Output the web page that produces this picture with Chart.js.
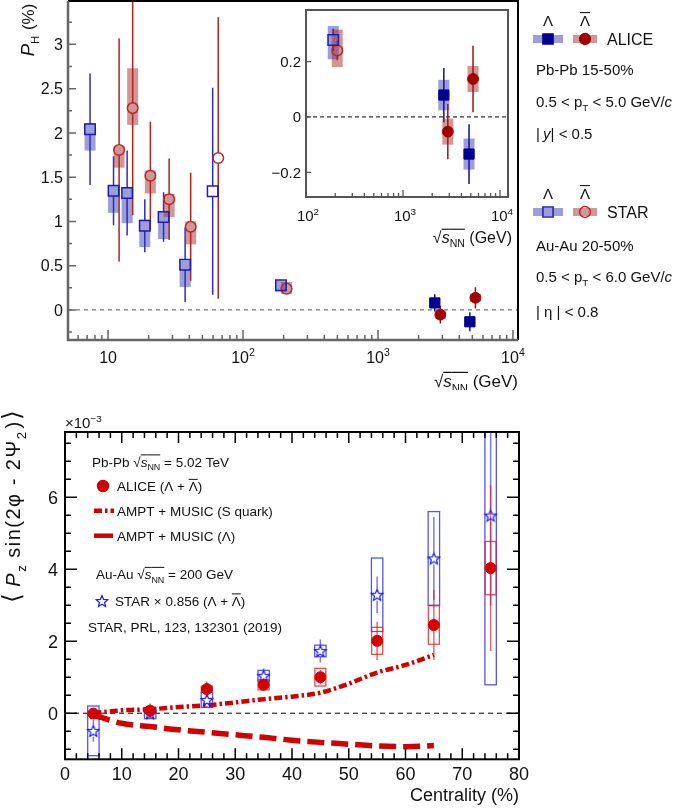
<!DOCTYPE html>
<html>
<head>
<meta charset="utf-8">
<script src="https://cdn.jsdelivr.net/npm/chart.js@4.4.1/dist/chart.umd.min.js"></script>
<style>
  body { margin: 0; background: #fff; }
  #wrap { position: relative; width: 685px; height: 811px; }
  canvas { position: absolute; left: 0; }
</style>
</head>
<body>
<div id="wrap">
  <canvas id="topChart" width="685" height="390" style="top:0"></canvas>
  <canvas id="insetChart" width="685" height="390" style="top:0"></canvas>
  <canvas id="bottomChart" width="685" height="421" style="top:390px"></canvas>
</div>
<script>
// ---- top panel: global polarization P_H (%) vs sqrt(s_NN) ----
// STAR Au-Au 20-50%, Lambda
const starEnergyLam = [7.7, 11.5, 14.5, 19.6, 27, 39, 62.4, 200];
const starPLam = [2.04, 1.347, 1.32, 0.95, 1.05, 0.51, 1.34, 0.278];
const starStatLam = [0.63, 0.39, 0.48, 0.30, 0.28, 0.42, 1.17, 0.04];
const starSysUpLam = [0.07, 0.06, 0.065, 0.07, 0.06, 0.05, 0.0, 0.05];
const starSysDnLam = [0.24, 0.25, 0.34, 0.24, 0.25, 0.25, 0.0, 0.07];
// STAR, anti-Lambda
const starEnergyBar = [11.5, 14.5, 19.6, 27, 39, 62.4, 200];
const starPBar = [1.806, 2.28, 1.516, 1.25, 0.94, 1.716, 0.24];
const starStatBar = [1.26, 1.21, 0.61, 0.46, 0.61, 1.59, 0.035];
const starSysUpBar = [0.05, 0.45, 0.06, 0.06, 0.06, 0.0, 0.075];
const starSysDnBar = [0.20, 0.19, 0.20, 0.20, 0.20, 0.0, 0.06];
// ALICE Pb-Pb 15-50%
const aliceEnergy = [2760, 5020];
const alicePLam = [0.079, -0.134];
const aliceStatLam = [0.098, 0.108];
const aliceSysLam = [0.055, 0.056];
const alicePBar = [-0.053, 0.137];
const aliceStatBar = [0.10, 0.12];
const aliceSysBar = [0.047, 0.047];
// Lambda / anti-Lambda are drawn slightly left / right of the nominal energy
const lamShift = 0.955;
const barShift = 1.05;

const topYTicks = [0, 0.5, 1, 1.5, 2, 2.5, 3];
const topYTickLabels = ['0', '0.5', '1', '1.5', '2', '2.5', '3'];
const topXTicks = [10, 100, 1000, 10000];
const topXTickLabels = [['10', ''], ['10', '2'], ['10', '3'], ['10', '4']];
const insetYTicks = [-0.2, 0, 0.2];
const insetYTickLabels = ['\u22120.2', '0', '0.2'];
const insetXTicks = [100, 1000, 10000];
const insetXTickLabels = [['10', '2'], ['10', '3'], ['10', '4']];

// ---- bottom panel: <P_z sin(2phi - 2Psi_2)> (x 1e-3) vs centrality ----
const centrality = [5, 15, 25, 35, 45, 55, 65, 75];
const alicePz = [-0.01, 0.07, 0.67, 0.79, 1.0, 2.01, 2.45, 4.03];
const alicePzStat = [0.1, 0.2, 0.21, 0.15, 0.2, 0.53, 0.97, 2.3];
const alicePzSys = [0.05, 0.05, 0.08, 0.14, 0.245, 0.375, 0.535, 0.74];
const starPz = [-0.49, 0.0, 0.37, 1.04, 1.73, 3.29, 4.30, 5.49];
const starPzStat = [0.3, 0.1, 0.2, 0.2, 0.32, 0.51, 1.15, 2.5];
const starPzSys = [0.69, 0.15, 0.21, 0.15, 0.16, 1.02, 1.3, 4.7];
const modelCent = [5, 10, 15, 20, 25, 30, 35, 40, 45, 50, 55, 60, 65];
const amptSquark = [0.0, 0.08, 0.11, 0.17, 0.22, 0.30, 0.39, 0.46, 0.57, 0.82, 1.13, 1.34, 1.62];
const amptLambda = [-0.05, -0.28, -0.37, -0.46, -0.53, -0.60, -0.67, -0.75, -0.81, -0.86, -0.91, -0.93, -0.90];

const botXTicks = [0, 10, 20, 30, 40, 50, 60, 70, 80];
const botXTickLabels = ['0', '10', '20', '30', '40', '50', '60', '70', '80'];
const botYTicks = [0, 2, 4, 6];
const botYTickLabels = ['0', '2', '4', '6'];

// ---------------------------------------------------------------
const FONT = '"Liberation Sans", Arial, Helvetica, sans-serif';
const INK = '#111';
const BLUE_SYS = 'rgba(60,60,180,0.5)';
const RED_SYS = 'rgba(165,45,45,0.5)';

// text made of parts: {t, i: italic, sub, sup, o: overline, fs: size factor, dx: extra gap}
function rich(ctx, x, y, parts, size, align) {
    const fontOf = p => (p.i ? 'italic ' : '') + ((p.sub || p.sup) ? size * 0.66 : size * (p.fs || 1)) + 'px ' + FONT;
    const widths = parts.map(p => {
        ctx.font = fontOf(p);
        return ctx.measureText(p.t).width + (p.dx || 0);
    });
    const total = widths.reduce((s, w) => s + w, 0);
    let cx = align === 'right' ? x - total : align === 'center' ? x - total / 2 : x;
    ctx.textAlign = 'left';
    ctx.textBaseline = 'alphabetic';
    ctx.strokeStyle = ctx.fillStyle;
    parts.forEach((p, k) => {
        ctx.font = fontOf(p);
        const dy = p.sub ? size * 0.28 : p.sup ? -size * 0.42 : 0;
        ctx.fillText(p.t, cx, y + dy);
        if (p.o) {
            ctx.beginPath();
            ctx.lineWidth = Math.max(1, size / 14);
            ctx.moveTo(cx, y - size * 0.86);
            ctx.lineTo(cx + widths[k] - (p.dx || 0), y - size * 0.86);
            ctx.stroke();
        }
        cx += widths[k];
    });
}

function tickMarks(ctx, scale, a, vals, len, side) {
    ctx.beginPath();
    vals.forEach(v => {
        const p = scale.getPixelForValue(v);
        if (side === 'bottom' || side === 'top') {
            if (p < a.left - 0.5 || p > a.right + 0.5) return;
            const y0 = side === 'bottom' ? a.bottom : a.top;
            ctx.moveTo(p, y0);
            ctx.lineTo(p, side === 'bottom' ? y0 - len : y0 + len);
        } else {
            if (p < a.top - 0.5 || p > a.bottom + 0.5) return;
            const x0 = side === 'left' ? a.left : a.right;
            ctx.moveTo(x0, p);
            ctx.lineTo(side === 'left' ? x0 + len : x0 - len, p);
        }
    });
    ctx.stroke();
}

function logMinors(from, to) {
    const out = [];
    for (let d = from; d < to; d *= 10) {
        for (let m = 2; m <= 9; m++) out.push(d * m);
    }
    return out;
}

function zeroLine(chart, color, dash) {
    const {ctx, chartArea: a, scales: {y}} = chart;
    const y0 = y.getPixelForValue(0);
    ctx.save();
    ctx.strokeStyle = color;
    ctx.lineWidth = 1;
    ctx.setLineDash(dash);
    ctx.beginPath();
    ctx.moveTo(a.left, y0);
    ctx.lineTo(a.right, y0);
    ctx.stroke();
    ctx.restore();
}

// systematic boxes + statistical bars, drawn under the markers
const errorBars = {
    id: 'errorBars',
    beforeDatasetsDraw(chart) {
        const {ctx, chartArea: a, scales: {x, y}} = chart;
        ctx.save();
        ctx.beginPath();
        ctx.rect(a.left, a.top, a.right - a.left, a.bottom - a.top);
        ctx.clip();
        chart.data.datasets.forEach(ds => {
            const e = ds.err;
            if (!e) return;
            ds.data.forEach(p => {
                const px = x.getPixelForValue(p.x);
                const py = y.getPixelForValue(p.y);
                if (p.up || p.dn) {
                    const top = y.getPixelForValue(p.y + p.up);
                    const bot = y.getPixelForValue(p.y - p.dn);
                    if (e.boxFill) {
                        ctx.fillStyle = e.boxFill;
                        ctx.fillRect(px - e.half, top, 2 * e.half, bot - top);
                    }
                    if (e.boxStroke) {
                        ctx.strokeStyle = e.boxStroke;
                        ctx.lineWidth = 1.3;
                        ctx.strokeRect(px - e.half, top, 2 * e.half, bot - top);
                    }
                }
                if (p.stat) {
                    const t = y.getPixelForValue(p.y + p.stat);
                    const b = y.getPixelForValue(p.y - p.stat);
                    ctx.strokeStyle = e.color;
                    ctx.lineWidth = e.width || 1.5;
                    ctx.beginPath();
                    if (t < py - e.gap) { ctx.moveTo(px, t); ctx.lineTo(px, py - e.gap); }
                    if (b > py + e.gap) { ctx.moveTo(px, py + e.gap); ctx.lineTo(px, b); }
                    ctx.stroke();
                }
            });
        });
        ctx.restore();
    }
};

function pts(xs, ys, stat, up, dn, shift) {
    return xs.map((v, k) => ({x: v * shift, y: ys[k], stat: stat[k], up: up[k], dn: dn[k]}));
}

function pointDatasets() {
    return [
        {
            data: pts(starEnergyLam, starPLam, starStatLam, starSysUpLam, starSysDnLam, lamShift),
            pointStyle: 'rect', pointRadius: 7.4, backgroundColor: 'rgba(0,0,0,0)',
            borderColor: '#1e1eaa', borderWidth: 1.5,
            err: {boxFill: BLUE_SYS, color: '#2c2cc4', gap: 5.2, half: 5.5}
        },
        {
            data: pts(starEnergyBar, starPBar, starStatBar, starSysUpBar, starSysDnBar, barShift),
            pointStyle: 'circle', pointRadius: 5.3, backgroundColor: 'rgba(0,0,0,0)',
            borderColor: '#b82626', borderWidth: 1.5,
            err: {boxFill: RED_SYS, color: '#b52222', gap: 5.3, half: 5.5}
        },
        {
            data: pts(aliceEnergy, alicePLam, aliceStatLam, aliceSysLam, aliceSysLam, lamShift),
            pointStyle: 'rect', pointRadius: 7.2, backgroundColor: '#00008f',
            borderColor: '#00008f', borderWidth: 1,
            err: {boxFill: BLUE_SYS, color: '#10109f', gap: 5, half: 5.5}
        },
        {
            data: pts(aliceEnergy, alicePBar, aliceStatBar, aliceSysBar, aliceSysBar, barShift),
            pointStyle: 'circle', pointRadius: 5.4, backgroundColor: '#a30000',
            borderColor: '#a30000', borderWidth: 1,
            err: {boxFill: RED_SYS, color: '#a81010', gap: 5.3, half: 5.5}
        }
    ];
}

const baseOptions = {
    responsive: false,
    animation: false,
    devicePixelRatio: 1,
    events: [],
    plugins: {legend: {display: false}, tooltip: {enabled: false}}
};

const sqrtS = () => [{t: '\u221A'}, {t: 's', i: true, o: true}, {t: 'NN', sub: true, o: true}];
const lamBarParts = [{t: '\u039B', o: true}];

function marker(ctx, style, x, y, r, fill, stroke) {
    ctx.save();
    ctx.lineWidth = 1.5;
    ctx.strokeStyle = stroke;
    ctx.fillStyle = fill;
    ctx.beginPath();
    if (style === 'rect') {
        const s = r * Math.SQRT1_2;
        ctx.rect(x - s, y - s, 2 * s, 2 * s);
    } else {
        ctx.arc(x, y, r, 0, 2 * Math.PI);
    }
    if (fill) ctx.fill();
    ctx.stroke();
    ctx.restore();
}

// ---- main top chart ----
const topDecor = {
    id: 'topDecor',
    beforeDatasetsDraw(chart) { zeroLine(chart, '#555', [4, 4]); },
    afterDraw(chart) {
        const {ctx, chartArea: a, scales: {x, y}} = chart;
        ctx.save();
        // frame: grey left/bottom axes, black top/right
        ctx.strokeStyle = '#000';
        ctx.lineWidth = 2;
        ctx.beginPath();
        ctx.moveTo(a.left, a.top); ctx.lineTo(a.right, a.top); ctx.lineTo(a.right, a.bottom);
        ctx.stroke();
        ctx.strokeStyle = '#666';
        ctx.lineWidth = 2.5;
        ctx.beginPath();
        ctx.moveTo(a.left, a.top); ctx.lineTo(a.left, a.bottom); ctx.lineTo(a.right, a.bottom);
        ctx.stroke();
        ctx.lineWidth = 1.5;
        const yMinor = [];
        for (let v = -0.25; v <= 3.5; v += 0.5) yMinor.push(v);
        tickMarks(ctx, y, a, topYTicks, 8, 'left');
        tickMarks(ctx, y, a, yMinor, 4, 'left');
        tickMarks(ctx, x, a, topXTicks, 10, 'bottom');
        tickMarks(ctx, x, a, logMinors(1, 10000).filter(v => v > 5), 5, 'bottom');

        ctx.fillStyle = INK;
        topYTicks.forEach((v, k) => {
            rich(ctx, 63, y.getPixelForValue(v) + 5.8, [{t: topYTickLabels[k]}], 16, 'right');
        });
        topXTicks.forEach((v, k) => {
            const [b, e] = topXTickLabels[k];
            const parts = [{t: b}];
            if (e) parts.push({t: e, sup: true});
            rich(ctx, x.getPixelForValue(v), 363, parts, 16, 'center');
        });
        rich(ctx, 518, 387, [...sqrtS(), {t: ' (GeV)'}], 17, 'right');
        ctx.save();
        ctx.translate(34, 30);
        ctx.rotate(-Math.PI / 2);
        rich(ctx, 0, 0, [{t: 'P', i: true, fs: 1.1}, {t: 'H', sub: true, dx: 1}, {t: ' (%)'}], 17, 'center');
        ctx.restore();

        // legend on the right
        const lx1 = 548, lx2 = 585;
        [[25.5, 39, 'ALICE', true], [198.5, 212, 'STAR', false]].forEach(([ty, my, name, filled]) => {
            rich(ctx, lx1, ty, [{t: '\u039B'}], 15, 'center');
            rich(ctx, lx2, ty, lamBarParts, 15, 'center');
            ctx.fillStyle = BLUE_SYS;
            ctx.fillRect(533, my - 4, 30, 8);
            ctx.fillStyle = RED_SYS;
            ctx.fillRect(573, my - 4, 24, 8);
            marker(ctx, 'rect', lx1, my, 7.2, filled ? '#00008f' : null, filled ? '#00008f' : '#1e1eaa');
            marker(ctx, 'circle', lx2, my, 5.4, filled ? '#a30000' : null, filled ? '#a30000' : '#b82626');
            ctx.fillStyle = INK;
            rich(ctx, 607, my + 5.7, [{t: name}], 16, 'left');
        });
        rich(ctx, 536, 74.5, [{t: 'Pb-Pb 15-50%'}], 15, 'left');
        rich(ctx, 536, 106.5, [{t: '0.5 < p'}, {t: 'T', sub: true}, {t: ' < 5.0 GeV/'}, {t: 'c', i: true}], 15, 'left');
        rich(ctx, 536, 138.5, [{t: '| ', dx: -1}, {t: 'y', i: true}, {t: '| < 0.5'}], 15, 'left');
        rich(ctx, 536, 250.5, [{t: 'Au-Au 20-50%'}], 15, 'left');
        rich(ctx, 536, 282, [{t: '0.5 < p'}, {t: 'T', sub: true}, {t: ' < 6.0 GeV/'}, {t: 'c', i: true}], 15, 'left');
        rich(ctx, 536, 317, [{t: '| \u03B7 | < 0.8'}], 15, 'left');
        ctx.restore();
    }
};

new Chart(document.getElementById('topChart'), {
    type: 'scatter',
    data: {datasets: pointDatasets()},
    options: {
        ...baseOptions,
        layout: {autoPadding: false, padding: {left: 68, top: 1, right: 685 - 518, bottom: 390 - 340}},
        scales: {
            x: {type: 'logarithmic', min: 5.05, max: 10900, display: false},
            y: {min: -0.34, max: 3.49, display: false}
        }
    },
    plugins: [topDecor, errorBars]
});

// ---- inset (zoom on high energies) ----
const insetDecor = {
    id: 'insetDecor',
    beforeDraw(chart) {
        const {ctx, chartArea: a} = chart;
        ctx.save();
        ctx.fillStyle = '#fff';
        ctx.fillRect(a.left, a.top, a.right - a.left, a.bottom - a.top);
        ctx.restore();
    },
    beforeDatasetsDraw(chart) { zeroLine(chart, '#000', [4, 3]); },
    afterDraw(chart) {
        const {ctx, chartArea: a, scales: {x, y}} = chart;
        ctx.save();
        ctx.strokeStyle = '#555';
        ctx.lineWidth = 2;
        ctx.strokeRect(a.left, a.top, a.right - a.left, a.bottom - a.top);
        ctx.lineWidth = 1.3;
        tickMarks(ctx, y, a, insetYTicks, 5, 'left');
        tickMarks(ctx, x, a, insetXTicks, 7, 'bottom');
        tickMarks(ctx, x, a, logMinors(100, 10000), 4, 'bottom');
        ctx.fillStyle = INK;
        insetYTicks.forEach((v, k) => {
            rich(ctx, 301, y.getPixelForValue(v) + 5.4, [{t: insetYTickLabels[k]}], 15, 'right');
        });
        insetXTicks.forEach((v, k) => {
            const [b, e] = insetXTickLabels[k];
            rich(ctx, x.getPixelForValue(v) + 2, 221, [{t: b}, {t: e, sup: true}], 15, 'center');
        });
        rich(ctx, 512, 243, [...sqrtS(), {t: ' (GeV)'}], 16, 'right');
        ctx.restore();
    }
};

new Chart(document.getElementById('insetChart'), {
    type: 'scatter',
    data: {datasets: pointDatasets()},
    options: {
        ...baseOptions,
        layout: {autoPadding: false, padding: {left: 306, top: 10, right: 685 - 508, bottom: 390 - 197}},
        scales: {
            x: {type: 'logarithmic', min: 100, max: 12090, display: false},
            y: {min: -0.289, max: 0.386, display: false}
        }
    },
    plugins: [insetDecor, errorBars]
});

// ---- bottom chart ----
function makeStar(r, color) {
    const c = document.createElement('canvas');
    const s = Math.ceil(2 * r + 4);
    c.width = c.height = s;
    const g = c.getContext('2d');
    g.strokeStyle = color;
    g.lineWidth = 1.2;
    g.beginPath();
    for (let k = 0; k < 10; k++) {
        const rr = k % 2 ? r * 0.45 : r;
        const ang = -Math.PI / 2 + k * Math.PI / 5;
        const px = s / 2 + rr * Math.cos(ang), py = s / 2 + rr * Math.sin(ang) + 0.6;
        if (k) g.lineTo(px, py); else g.moveTo(px, py);
    }
    g.closePath();
    g.stroke();
    return c;
}
const starImg = makeStar(6, '#1a1aff');

const bottomDecor = {
    id: 'bottomDecor',
    beforeDatasetsDraw(chart) { zeroLine(chart, '#000', [5, 4]); },
    afterDraw(chart) {
        const {ctx, chartArea: a, scales: {x, y}} = chart;
        ctx.save();
        ctx.strokeStyle = '#000';
        ctx.lineWidth = 2;
        ctx.strokeRect(a.left, a.top, a.right - a.left, a.bottom - a.top);
        ctx.lineWidth = 1.5;
        const xMinor = [], yMinor = [];
        for (let v = 2; v < 80; v += 2) if (v % 10) xMinor.push(v);
        for (let v = -1; v <= 7.5; v += 0.5) if (v % 2) yMinor.push(v);
        ['bottom', 'top'].forEach(s => {
            tickMarks(ctx, x, a, botXTicks, 11, s);
            tickMarks(ctx, x, a, xMinor, 6, s);
        });
        ['left', 'right'].forEach(s => {
            tickMarks(ctx, y, a, botYTicks, 12, s);
            tickMarks(ctx, y, a, yMinor, 6, s);
        });
        ctx.fillStyle = INK;
        botXTicks.forEach((v, k) => {
            rich(ctx, x.getPixelForValue(v), 389.5, [{t: botXTickLabels[k]}], 18, 'center');
        });
        botYTicks.forEach((v, k) => {
            rich(ctx, 58, y.getPixelForValue(v) + 6.5, [{t: botYTickLabels[k]}], 18, 'right');
        });
        rich(ctx, 65, 38, [{t: '\u00D710'}, {t: '\u22123', sup: true}], 15, 'left');
        rich(ctx, 519, 411, [{t: 'Centrality (%)'}], 18, 'right');
        ctx.save();
        ctx.translate(20, 116);
        ctx.rotate(-Math.PI / 2);
        ctx.letterSpacing = '1.5px';
        rich(ctx, 0, 0, [{t: '\u27E8', fs: 1.25, dx: 5}, {t: 'P', i: true}, {t: 'z', sub: true, dx: 6},
            {t: 'sin(2\u03C6 - 2\u03A8'}, {t: '2', sub: true, dx: 2}, {t: ')'}, {t: '\u27E9', fs: 1.25}], 20, 'center');
        ctx.restore();

        // legend
        const fs = 13.5;
        rich(ctx, 92, 76.5, [{t: 'Pb-Pb '}, ...sqrtS(), {t: ' = 5.02 TeV'}], fs, 'left');
        marker(ctx, 'circle', 103, 96, 5.5, '#d40000', '#d40000');
        rich(ctx, 117, 101, [{t: 'ALICE ('}, {t: '\u039B'}, {t: ' + '}, ...lamBarParts, {t: ')'}], fs, 'left');
        ctx.strokeStyle = '#d40000';
        ctx.lineWidth = 4.5;
        ctx.setLineDash([8, 3, 2.5, 3]);
        ctx.beginPath(); ctx.moveTo(94, 120.7); ctx.lineTo(114, 120.7); ctx.stroke();
        ctx.setLineDash([]);
        ctx.beginPath(); ctx.moveTo(94, 145.7); ctx.lineTo(113, 145.7); ctx.stroke();
        rich(ctx, 117, 125.5, [{t: 'AMPT + MUSIC (S quark)'}], fs, 'left');
        rich(ctx, 117, 150.5, [{t: 'AMPT + MUSIC ('}, {t: '\u039B'}, {t: ')'}], fs, 'left');
        rich(ctx, 96, 189, [{t: 'Au-Au '}, ...sqrtS(), {t: ' = 200 GeV'}], fs, 'left');
        ctx.drawImage(starImg, 102 - starImg.width / 2, 211 - starImg.height / 2);
        rich(ctx, 115, 215.5, [{t: 'STAR \u00D7 0.856 ('}, {t: '\u039B'}, {t: ' + '}, ...lamBarParts, {t: ')'}], fs, 'left');
        rich(ctx, 88, 241.5, [{t: 'STAR, PRL, 123, 132301 (2019)'}], fs, 'left');
        ctx.restore();
    }
};

const sym = (vals, err, sys) => centrality.map((c, k) => ({x: c, y: vals[k], stat: err[k], up: sys[k], dn: sys[k]}));

new Chart(document.getElementById('bottomChart'), {
    type: 'scatter',
    data: {
        datasets: [
            {
                data: modelCent.map((c, k) => ({x: c, y: amptSquark[k]})),
                showLine: true, pointRadius: 0, borderColor: '#d40000', borderWidth: 4.5,
                borderDash: [8, 3, 2.5, 3], cubicInterpolationMode: 'monotone', order: 3
            },
            {
                data: modelCent.map((c, k) => ({x: c, y: amptLambda[k]})),
                showLine: true, pointRadius: 0, borderColor: '#d40000', borderWidth: 5.5,
                borderDash: [17, 7], cubicInterpolationMode: 'monotone', order: 3
            },
            {
                data: sym(starPz, starPzStat, starPzSys),
                pointStyle: starImg, pointRadius: 6, order: 2,
                err: {boxStroke: 'rgba(40,40,255,0.8)', color: 'rgba(60,60,255,0.7)', gap: 6, half: 5.7}
            },
            {
                data: sym(alicePz, alicePzStat, alicePzSys),
                pointStyle: 'circle', pointRadius: 5.5, backgroundColor: '#d40000',
                borderColor: '#d40000', borderWidth: 1, order: 1,
                err: {boxStroke: 'rgba(230,30,30,0.8)', color: 'rgba(220,40,40,0.7)', gap: 4, half: 5.5}
            }
        ]
    },
    options: {
        ...baseOptions,
        layout: {autoPadding: false, padding: {left: 65, top: 42, right: 685 - 519, bottom: 421 - 369.3}},
        scales: {
            x: {type: 'linear', min: 0, max: 80, display: false},
            y: {min: -1.28, max: 7.81, display: false}
        }
    },
    plugins: [bottomDecor, errorBars]
});
</script>
</body>
</html>
